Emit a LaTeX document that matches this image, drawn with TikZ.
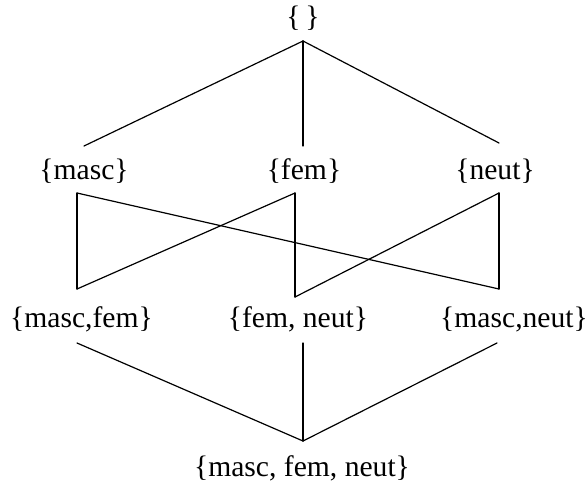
\documentclass[tikz,border=0pt]{standalone}
\usepackage{fontspec}
\setmainfont{Liberation Serif}
\usetikzlibrary{positioning}

\begin{document}
\begin{tikzpicture}[
    x=0.5pt, y=-0.5pt,
    font=\fontsize{14.8}{17}\selectfont,
    menge/.style={inner sep=0pt},
    garis/.style={line width=0.6pt, line cap=round}
  ]
    \useasboundingbox (0,0) rectangle (587,487);
    % the sets
    \node[menge] (leer) at (303,18) {\{\,\}};
    \node[menge] (masc) at (84,171) {\{masc\}};
    \node[menge] (fem) at (304,171) {\{fem\}};
    \node[menge] (neut) at (495,171) {\{neut\}};
    \node[menge] (mascfem) at (81.5,319) {\{masc,fem\}};
    \node[menge] (femneut) at (298,319) {\{fem, neut\}};
    \node[menge] (mascneut) at (514,319) {\{masc,neut\}};
    \node[menge] (alle) at (302,468) {\{masc, fem, neut\}};
    % line ends
    \coordinate (leer-u) at (303,41);
    \coordinate (masc-o) at (84,146);
    \coordinate (fem-o) at (303,146);
    \coordinate (neut-o) at (499,143);
    \foreach \n/\x in {masc/77, fem/295, neut/499}
      \coordinate (\n-u) at (\x,193);
    \coordinate (mascfem-o) at (77,289);
    \coordinate (femneut-o) at (295,297);
    \coordinate (mascneut-o) at (499,289);
    \foreach \n/\x in {mascfem/77, femneut/303, mascneut/497}
      \coordinate (\n-u) at (\x,343);
    \coordinate (alle-o) at (303,441);
    % the order
    \foreach \a/\b in {leer-u/masc-o, leer-u/fem-o, leer-u/neut-o,
                       masc-u/mascfem-o, masc-u/mascneut-o,
                       fem-u/mascfem-o, fem-u/femneut-o,
                       neut-u/femneut-o, neut-u/mascneut-o,
                       mascfem-u/alle-o, femneut-u/alle-o, mascneut-u/alle-o}
      \draw[garis] (\a) -- (\b);
\end{tikzpicture}
\end{document}
